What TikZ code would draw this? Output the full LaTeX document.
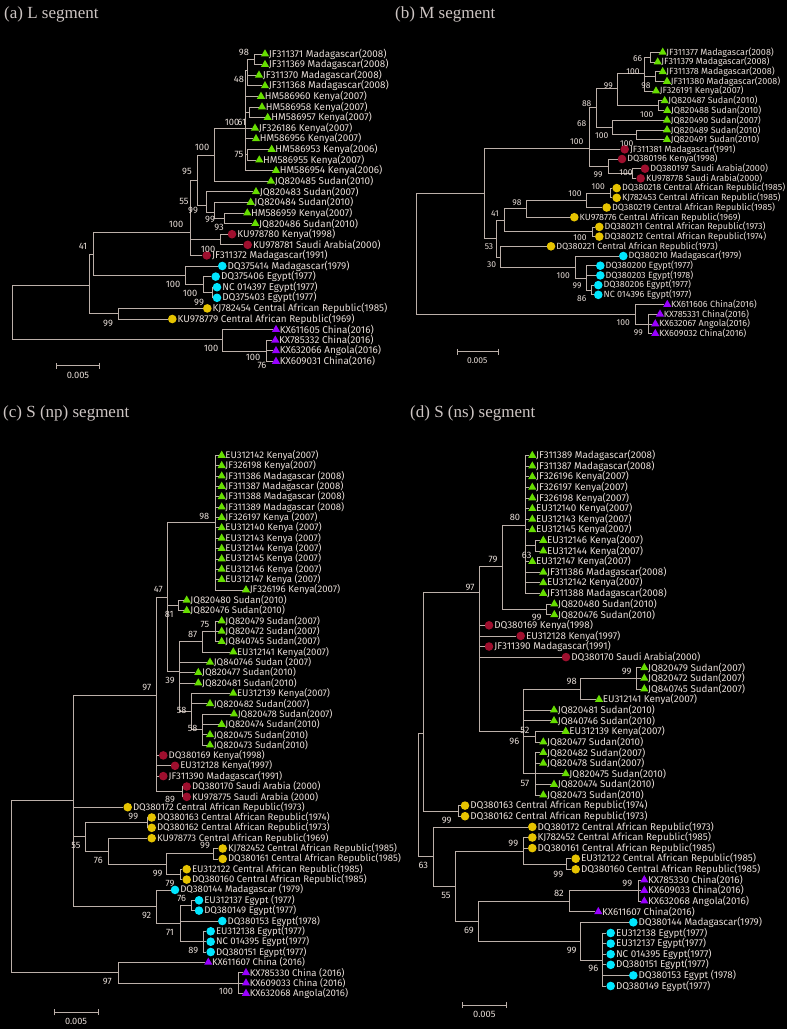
\documentclass[tikz,border=0pt]{standalone}
\usepackage{fontspec}
\setmainfont{Liberation Serif}
\newfontfamily\treefont{Fira Sans}
\newfontfamily\bootfont{Fira Sans}
\usetikzlibrary{positioning, shapes.geometric, arrows.meta}

\definecolor{branch}{HTML}{BCB0A9}
\definecolor{txt}{HTML}{E6DCD6}
\definecolor{ttlc}{HTML}{CDC5C3}
\definecolor{mgreen}{HTML}{66DD00}
\definecolor{mred}{HTML}{9E0F2E}
\definecolor{mcyan}{HTML}{00E6FF}
\definecolor{myellow}{HTML}{E6C300}
\definecolor{mpurple}{HTML}{9900FF}

\tikzstyle{brline} = [draw=branch, line width=0.8pt]
\tikzstyle{gtri} = [regular polygon, regular polygon sides=3, minimum size=9.5pt, inner sep=0pt, fill=mgreen]
\tikzstyle{ptri} = [gtri, fill=mpurple]
\tikzstyle{rdot} = [circle, minimum size=8.6pt, inner sep=0pt, fill=mred]
\tikzstyle{cdot} = [rdot, fill=mcyan]
\tikzstyle{ydot} = [rdot, fill=myellow]
\tikzstyle{lbl} = [text=txt, inner sep=0pt, anchor=west, font=\treefont\fontsize{9.9}{10}\selectfont]
\tikzstyle{boot} = [text=txt, inner sep=0pt, font=\bootfont\fontsize{9.3}{10}\selectfont]
\tikzstyle{ttl} = [text=ttlc, inner sep=0pt, anchor=west, font=\fontsize{17}{19}\selectfont]
\tikzstyle{sbar} = [brline, {Bar[width=6pt]}-{Bar[width=6pt]}]

% leaf: name, x, y, marker, text
\newcommand{\leaf}[5]{\node[#4] (#1) at (#2,#3) {};\node[lbl, right=0.6pt of #1] (#1t) {#5};}
% branches from a parent to its children
\newcommand{\kids}[2]{\foreach \kid in {#2} {\draw[brline] (#1) |- (\kid);}}

\begin{document}
\begin{tikzpicture}[x=1pt, y=-1pt]
\fill[black] (0,0) rectangle (787,1029);
\useasboundingbox (0,0) rectangle (787,1029);

%%%%% (a) L segment
\node[ttl] (ta) at (4,14) {(a) L segment};
\leaf{a1}{265}{54.0}{gtri}{JF311371 Madagascar(2008)}
\leaf{a2}{265}{64.6}{gtri}{JF311369 Madagascar(2008)}
\leaf{a3}{259}{75.2}{gtri}{JF311370 Madagascar(2008)}
\leaf{a4}{265}{85.8}{gtri}{JF311368 Madagascar(2008)}
\leaf{a5}{261}{96.4}{gtri}{HM586960 Kenya(2007)}
\leaf{a6}{262}{107.0}{gtri}{HM586958 Kenya(2007)}
\leaf{a7}{267.7}{117.6}{gtri}{HM586957 Kenya(2007)}
\leaf{a8}{255}{128.2}{gtri}{JF326186 Kenya(2007)}
\leaf{a9}{256}{138.8}{gtri}{HM586956 Kenya(2007)}
\leaf{a10}{271.7}{149.4}{gtri}{HM586953 Kenya(2006)}
\leaf{a11}{259.3}{160.0}{gtri}{HM586955 Kenya(2007)}
\leaf{a12}{276}{170.6}{gtri}{HM586954 Kenya(2006)}
\leaf{a13}{271}{181.2}{gtri}{JQ820485 Sudan(2010)}
\leaf{a14}{256}{191.8}{gtri}{JQ820483 Sudan(2007)}
\leaf{a15}{250.7}{202.4}{gtri}{JQ820484 Sudan(2010)}
\leaf{a16}{247.3}{213.0}{gtri}{HM586959 Kenya(2007)}
\leaf{a17}{255.3}{223.6}{gtri}{JQ820486 Sudan(2010)}
\leaf{a18}{232}{234.2}{rdot}{KU978780 Kenya(1998)}
\leaf{a19}{247.7}{244.8}{rdot}{KU978781 Saudi Arabia(2000)}
\leaf{a20}{206.7}{255.4}{rdot}{JF311372 Madagascar(1991)}
\leaf{a21}{222.3}{266.0}{cdot}{DQ375414 Madagascar(1979)}
\leaf{a22}{215.7}{276.6}{cdot}{DQ375406 Egypt(1977)}
\leaf{a23}{217}{287.2}{cdot}{NC 014397 Egypt(1977)}
\leaf{a24}{217}{297.8}{cdot}{DQ375403 Egypt(1977)}
\leaf{a25}{207.3}{308.4}{ydot}{KJ782454 Central African Republic(1985)}
\leaf{a26}{172.3}{319.0}{ydot}{KU978779 Central African Republic(1969)}
\leaf{a27}{276}{329.6}{ptri}{KX611605 China(2016)}
\leaf{a28}{275.3}{340.2}{ptri}{KX785332 China(2016)}
\leaf{a29}{276}{350.8}{ptri}{KX632066 Angola(2016)}
\leaf{a30}{276}{361.4}{ptri}{KX609031 China(2016)}

\coordinate (aroot) at (12,285);
\coordinate (an41) at (89,285);
\coordinate (anb) at (93,254);
\coordinate (an100a) at (190,232.7);
\coordinate (an95) at (197,180);
\coordinate (an100) at (214.3,155);
\coordinate (ank) at (245,128.3);
\coordinate (an48) at (247,70);
\coordinate (an98) at (254,59.3);
\coordinate (an61) at (249,112.3);
\coordinate (an75) at (247,154.7);
\coordinate (an55) at (206.7,205);
\coordinate (an99c) at (214,212);
\coordinate (an99d) at (224,218.3);
\coordinate (an93) at (220,239.5);
\coordinate (aneg) at (185,275.7);
\coordinate (aneg2) at (203,284);
\coordinate (aneg3) at (212,292.5);
\coordinate (ancar) at (118.3,313.7);
\coordinate (anch) at (222.7,339);
\coordinate (anch2) at (266.7,351);

\kids{aroot}{an41,anch}
\kids{an41}{anb,ancar}
\kids{anb}{an100a,aneg}
\kids{an100a}{an95,an93,a20}
\kids{an95}{an100,an55}
\kids{an100}{ank,a13}
\kids{ank}{an48,a5,an61,a8,a9,an75,a12}
\kids{an48}{an98,a3,a4}
\kids{an98}{a1,a2}
\kids{an61}{a6,a7}
\kids{an75}{a10,a11}
\kids{an55}{a14,an99c}
\kids{an99c}{a15,an99d}
\kids{an99d}{a16,a17}
\kids{an93}{a18,a19}
\kids{aneg}{a21,aneg2}
\kids{aneg2}{a22,aneg3}
\kids{aneg3}{a23,a24}
\kids{ancar}{a25,a26}
\kids{anch}{a27,anch2}
\kids{anch2}{a28,a29,a30}

\node[boot] (ab1) at (244,52) {98};
\node[boot] (ab2) at (239,79) {48};
\node[boot] (ab3) at (232,122) {100};
\node[boot] (ab4) at (242,122) {61};
\node[boot] (ab5) at (239,154) {75};
\node[boot] (ab6) at (202,147) {100};
\node[boot] (ab7) at (187,171) {95};
\node[boot] (ab8) at (184,201) {55};
\node[boot] (ab9) at (193,210) {99};
\node[boot] (ab10) at (210,219) {99};
\node[boot] (ab11) at (219,227.5) {93};
\node[boot] (ab12) at (176,224.5) {100};
\node[boot] (ab13) at (83,246) {41};
\node[boot] (ab14) at (208,249.3) {100};
\node[boot] (ab15) at (173,284) {100};
\node[boot] (ab16) at (190,293) {100};
\node[boot] (ab17) at (199,302) {99};
\node[boot] (ab18) at (108,323) {99};
\node[boot] (ab19) at (211,348) {100};
\node[boot] (ab20) at (253,357) {100};
\node[boot] (ab21) at (262,365) {76};

\coordinate (asl) at (56,365.7);
\coordinate (asr) at (100,365.7);
\draw[sbar] (asl) -- (asr);
\node[boot] (asc) at (78,375.7) {0.005};

%%%%% (b) M segment
\begin{scope}[lbl/.append style={font=\treefont\fontsize{9}{9.5}\selectfont},
              boot/.append style={font=\bootfont\fontsize{8.5}{9}\selectfont}]
\node[ttl] (tb) at (395,14) {(b) M segment};
\leaf{b1}{662.7}{52.3}{gtri}{JF311377 Madagascar(2008)}
\leaf{b2}{657.7}{62.0}{gtri}{JF311379 Madagascar(2008)}
\leaf{b3}{662.7}{71.7}{gtri}{JF311378 Madagascar(2008)}
\leaf{b4}{667}{81.4}{gtri}{JF311380 Madagascar(2008)}
\leaf{b5}{656}{91.1}{gtri}{JF326191 Kenya(2007)}
\leaf{b6}{664.7}{100.8}{gtri}{JQ820487 Sudan(2010)}
\leaf{b7}{667.3}{110.5}{gtri}{JQ820488 Sudan(2010)}
\leaf{b8}{667}{120.2}{gtri}{JQ820490 Sudan(2007)}
\leaf{b9}{667}{129.9}{gtri}{JQ820489 Sudan(2010)}
\leaf{b10}{667}{139.6}{gtri}{JQ820491 Sudan(2010)}
\leaf{b11}{624.7}{149.3}{rdot}{JF311381 Madagascar(1991)}
\leaf{b12}{622}{159.0}{rdot}{DQ380196 Kenya(1998)}
\leaf{b13}{645}{168.7}{rdot}{DQ380197 Saudi Arabia(2000)}
\leaf{b14}{640.7}{178.4}{rdot}{KU978778 Saudi Arabia(2000)}
\leaf{b15}{616.7}{188.1}{ydot}{DQ380218 Central African Republic(1985)}
\leaf{b16}{616.7}{197.8}{ydot}{KJ782453 Central African Republic(1985)}
\leaf{b17}{606.7}{207.5}{ydot}{DQ380219 Central African Republic(1985)}
\leaf{b18}{574.3}{217.2}{ydot}{KU978776 Central African Republic(1969)}
\leaf{b19}{599.3}{226.9}{ydot}{DQ380211 Central African Republic(1973)}
\leaf{b20}{599.3}{236.6}{ydot}{DQ380212 Central African Republic(1974)}
\leaf{b21}{551}{246.3}{ydot}{DQ380221 Central African Republic(1973)}
\leaf{b22}{623.3}{256.0}{cdot}{DQ380210 Madagascar(1979)}
\leaf{b23}{600.3}{265.7}{cdot}{DQ380200 Egypt(1977)}
\leaf{b24}{600.3}{275.4}{cdot}{DQ380203 Egypt(1978)}
\leaf{b25}{598.3}{285.1}{cdot}{DQ380206 Egypt(1977)}
\leaf{b26}{598.3}{294.8}{cdot}{NC 014396 Egypt(1977)}
\leaf{b27}{667.3}{304.5}{ptri}{KX611606 China(2016)}
\leaf{b28}{660}{314.2}{ptri}{KX785331 China(2016)}
\leaf{b29}{655.3}{323.9}{ptri}{KX632067 Angola(2016)}
\leaf{b30}{655.3}{333.6}{ptri}{KX609032 China(2016)}

\coordinate (broot) at (416.7,193.3);
\coordinate (bna) at (484,193.3);
\coordinate (bnb) at (589.3,148.3);
\coordinate (bn88) at (596.7,107.7);
\coordinate (bn99g) at (617.3,88.3);
\coordinate (bn100m) at (644,73);
\coordinate (bn66) at (650,57.2);
\coordinate (bn98) at (655,76.5);
\coordinate (bnsud) at (658.3,105.6);
\coordinate (bn100s) at (612.7,127.5);
\coordinate (bn3) at (636.7,134.8);
\coordinate (bnred) at (608.3,166.7);
\coordinate (bnsa) at (632.7,173.5);
\coordinate (bnc) at (496.7,238.3);
\coordinate (bn41) at (504,220);
\coordinate (bn98c) at (526.7,208.6);
\coordinate (bn100c) at (586.7,200);
\coordinate (bn100y) at (610,193);
\coordinate (bn100d) at (592.7,231.8);
\coordinate (bn30) at (500,257);
\coordinate (bneg) at (575,267.7);
\coordinate (bneg2) at (586.7,278.3);
\coordinate (bneg3) at (591.7,290);
\coordinate (bnch) at (635,314.3);
\coordinate (bnch2) at (648.3,324);

\kids{broot}{bna,bnch}
\kids{bna}{bnb,bnc}
\kids{bnb}{bn88,b11,bnred}
\kids{bn88}{bn99g,bn100s}
\kids{bn99g}{bn100m,bnsud}
\kids{bn100m}{bn66,bn98,b5}
\kids{bn66}{b1,b2}
\kids{bn98}{b3,b4}
\kids{bnsud}{b6,b7}
\kids{bn100s}{b8,bn3}
\kids{bn3}{b9,b10}
\kids{bnred}{b12,bnsa}
\kids{bnsa}{b13,b14}
\kids{bnc}{bn41,bn30}
\kids{bn41}{bn98c,bn100d}
\kids{bn98c}{bn100c,b18}
\kids{bn100c}{bn100y,b17}
\kids{bn100y}{b15,b16}
\kids{bn100d}{b19,b20}
\kids{bn30}{b21,bneg}
\kids{bneg}{b22,bneg2}
\kids{bneg2}{b23,b24,bneg3}
\kids{bneg3}{b25,b26}
\kids{bnch}{b27,bnch2}
\kids{bnch2}{b28,b29,b30}

\node[boot] (bb1) at (637.7,58.3) {66};
\node[boot] (bb2) at (633,71.7) {100};
\node[boot] (bb3) at (646,86) {98};
\node[boot] (bb4) at (608.3,86) {99};
\node[boot] (bb5) at (586.7,103.3) {88};
\node[boot] (bb6) at (646.7,114.3) {100};
\node[boot] (bb7) at (581.7,123.3) {68};
\node[boot] (bb8) at (601.7,136) {100};
\node[boot] (bb9) at (576.7,141.7) {100};
\node[boot] (bb10) at (626.7,143.3) {100};
\node[boot] (bb11) at (598,175) {99};
\node[boot] (bb12) at (626,172.7) {100};
\node[boot] (bb13) at (598.3,186.7) {100};
\node[boot] (bb14) at (575,193.3) {100};
\node[boot] (bb15) at (517,202.7) {98};
\node[boot] (bb16) at (495,213.3) {41};
\node[boot] (bb17) at (580,237.3) {100};
\node[boot] (bb18) at (489,246.7) {53};
\node[boot] (bb19) at (491.7,265) {30};
\node[boot] (bb20) at (563.3,276) {100};
\node[boot] (bb21) at (577,286) {99};
\node[boot] (bb22) at (581.7,298.3) {86};
\node[boot] (bb23) at (623.3,322.7) {100};
\node[boot] (bb24) at (638.3,332.7) {99};

\coordinate (bsl) at (456.7,351.7);
\coordinate (bsr) at (498.3,351.7);
\draw[sbar] (bsl) -- (bsr);
\node[boot] (bsc) at (477.3,360.7) {0.005};
\end{scope}

%%%%% (c) S (np) segment
\begin{scope}[lbl/.append style={font=\treefont\fontsize{9.6}{10}\selectfont},
              boot/.append style={font=\bootfont\fontsize{9.2}{10}\selectfont}]
\node[ttl] (tc) at (3,413) {(c) S (np) segment};
\leaf{c1}{221.7}{455.4}{gtri}{EU312142 Kenya(2007)}
\leaf{c2}{221.7}{465.7}{gtri}{JF326198 Kenya(2007)}
\leaf{c3}{221.7}{476.1}{gtri}{JF311386 Madagascar (2008)}
\leaf{c4}{221.7}{486.4}{gtri}{JF311387 Madagascar (2008)}
\leaf{c5}{221.7}{496.8}{gtri}{JF311388 Madagascar (2008)}
\leaf{c6}{221.7}{507.1}{gtri}{JF311389 Madagascar (2008)}
\leaf{c7}{221.7}{517.5}{gtri}{JF326197 Kenya (2007)}
\leaf{c8}{221.7}{527.8}{gtri}{EU312140 Kenya (2007)}
\leaf{c9}{221.7}{538.2}{gtri}{EU312143 Kenya (2007)}
\leaf{c10}{221.7}{548.5}{gtri}{EU312144 Kenya (2007)}
\leaf{c11}{221.7}{558.9}{gtri}{EU312145 Kenya (2007)}
\leaf{c12}{221.7}{569.2}{gtri}{EU312146 Kenya (2007)}
\leaf{c13}{221.7}{579.5}{gtri}{EU312147 Kenya (2007)}
\leaf{c14}{246}{589.9}{gtri}{JF326196 Kenya(2007)}
\leaf{c15}{186.7}{600.2}{gtri}{JQ820480 Sudan(2010)}
\leaf{c16}{186.7}{610.6}{gtri}{JQ820476 Sudan(2010)}
\leaf{c17}{221.7}{620.9}{gtri}{JQ820479 Sudan(2007)}
\leaf{c18}{221.7}{631.3}{gtri}{JQ820472 Sudan(2007)}
\leaf{c19}{221.7}{641.6}{gtri}{JQ840745 Sudan(2007)}
\leaf{c20}{233.3}{652.0}{gtri}{EU312141 Kenya(2007)}
\leaf{c21}{210}{662.3}{gtri}{JQ840746 Sudan (2007)}
\leaf{c22}{198.3}{672.6}{gtri}{JQ820477 Sudan(2010)}
\leaf{c23}{198.3}{683.0}{gtri}{JQ820481 Sudan(2010)}
\leaf{c24}{233.3}{693.3}{gtri}{EU312139 Kenya(2007)}
\leaf{c25}{210}{703.7}{gtri}{JQ820482 Sudan(2007)}
\leaf{c26}{234}{714.0}{gtri}{JQ820478 Sudan(2007)}
\leaf{c27}{221.7}{724.4}{gtri}{JQ820474 Sudan(2010)}
\leaf{c28}{210}{734.7}{gtri}{JQ820475 Sudan(2010)}
\leaf{c29}{210}{745.1}{gtri}{JQ820473 Sudan(2010)}
\leaf{c30}{163.3}{755.4}{rdot}{DQ380169 Kenya(1998)}
\leaf{c31}{175}{765.8}{rdot}{EU312128 Kenya(1997)}
\leaf{c32}{163.3}{776.1}{rdot}{JF311390 Madagascar(1991)}
\leaf{c33}{186.7}{786.5}{rdot}{DQ380170 Saudi Arabia (2000)}
\leaf{c34}{186.7}{796.8}{rdot}{KU978775 Saudi Arabia (2000)}
\leaf{c35}{127.7}{807.2}{ydot}{DQ380172 Central African Republic(1973)}
\leaf{c36}{151.7}{817.5}{ydot}{DQ380163 Central African Republic(1974)}
\leaf{c37}{151.7}{827.8}{ydot}{DQ380162 Central African Republic(1973)}
\leaf{c38}{151.7}{838.2}{ydot}{KU978773 Central African Republic(1969)}
\leaf{c39}{222.7}{848.5}{ydot}{KJ782452 Central African Republic(1985)}
\leaf{c40}{222.7}{858.9}{ydot}{DQ380161 Central African Republic(1985)}
\leaf{c41}{186.7}{869.2}{ydot}{EU312122 Central African Republic(1985)}
\leaf{c42}{186.7}{879.6}{ydot}{DQ380160 Central African Republic(1985)}
\leaf{c43}{175}{889.9}{cdot}{DQ380144 Madagascar (1979)}
\leaf{c44}{199}{900.3}{cdot}{EU312137 Egypt (1977)}
\leaf{c45}{199}{910.6}{cdot}{DQ380149 Egypt(1977)}
\leaf{c46}{222.3}{921.0}{cdot}{DQ380153 Egypt(1978)}
\leaf{c47}{210.7}{931.3}{cdot}{EU312138 Egypt(1977)}
\leaf{c48}{210.7}{941.7}{cdot}{NC 014395 Egypt(1977)}
\leaf{c49}{210.7}{952.0}{cdot}{DQ380151 Egypt(1977)}
\leaf{c50}{208.3}{962.3}{ptri}{KX611607 China (2016)}
\leaf{c51}{246}{972.7}{ptri}{KX785330 China (2016)}
\leaf{c52}{246}{983.0}{ptri}{KX609033 China (2016)}
\leaf{c53}{246}{993.4}{ptri}{KX632068 Angola(2016)}

\coordinate (croot) at (11.7,800);
\coordinate (cn1) at (73.3,800);
\coordinate (cn97) at (156.7,695);
\coordinate (cn47) at (167.7,597.3);
\coordinate (cn98) at (215,522.7);
\coordinate (cn81) at (178.7,605.4);
\coordinate (cn39) at (179.3,671.7);
\coordinate (cn87) at (202.7,641.7);
\coordinate (cn75) at (215,631.3);
\coordinate (cn58a) at (191.7,711);
\coordinate (cn58b) at (202.7,729.5);
\coordinate (cn89) at (182.7,791.7);
\coordinate (cn55) at (85,836.7);
\coordinate (cn99y) at (147.7,822.7);
\coordinate (cn76) at (108.3,851);
\coordinate (cnc2) at (166.7,864);
\coordinate (cn99k) at (213.3,853.7);
\coordinate (cn99e) at (180,874.4);
\coordinate (cneg) at (156.7,906.7);
\coordinate (cn71) at (180,923.3);
\coordinate (cn76e) at (191.7,905.5);
\coordinate (cn89e) at (203.3,941.7);
\coordinate (cn97c) at (118.3,972.3);
\coordinate (cn100) at (238.3,983);

\kids{croot}{cn1,cn97c}
\kids{cn1}{cn97,c35,cn55,cneg}
\kids{cn97}{cn47,c30,c31,c32,cn89}
\kids{cn47}{cn98,cn81,cn39}
\kids{cn98}{c1,c2,c3,c4,c5,c6,c7,c8,c9,c10,c11,c12,c13,c14}
\kids{cn81}{c15,c16}
\kids{cn39}{cn87,c21,c22,c23,cn58a}
\kids{cn87}{cn75,c20}
\kids{cn75}{c17,c18,c19}
\kids{cn58a}{c24,c25,cn58b}
\kids{cn58b}{c26,c27,c28,c29}
\kids{cn89}{c33,c34}
\kids{cn55}{cn99y,cn76}
\kids{cn99y}{c36,c37}
\kids{cn76}{c38,cnc2}
\kids{cnc2}{cn99k,cn99e}
\kids{cn99k}{c39,c40}
\kids{cn99e}{c41,c42}
\kids{cneg}{c43,cn71}
\kids{cn71}{cn76e,c46,cn89e}
\kids{cn76e}{c44,c45}
\kids{cn89e}{c47,c48,c49}
\kids{cn97c}{c50,cn100}
\kids{cn100}{c51,c52,c53}

\node[boot] (cb1) at (204.3,516) {98};
\node[boot] (cb2) at (158.3,589.3) {47};
\node[boot] (cb3) at (169.3,614.3) {81};
\node[boot] (cb4) at (205,624.3) {75};
\node[boot] (cb5) at (192.7,634.3) {87};
\node[boot] (cb6) at (170,680.7) {39};
\node[boot] (cb7) at (146.7,687.3) {97};
\node[boot] (cb8) at (181.7,710) {58};
\node[boot] (cb9) at (192.7,728.3) {58};
\node[boot] (cb10) at (170,799.3) {89};
\node[boot] (cb11) at (133.3,816) {99};
\node[boot] (cb12) at (76,845.7) {55};
\node[boot] (cb13) at (205,845.7) {99};
\node[boot] (cb14) at (98.3,860) {76};
\node[boot] (cb15) at (157.7,873.3) {99};
\node[boot] (cb16) at (170,883) {79};
\node[boot] (cb17) at (181.7,898.3) {76};
\node[boot] (cb18) at (146.7,915.7) {92};
\node[boot] (cb19) at (170,932.7) {71};
\node[boot] (cb20) at (193.3,950) {89};
\node[boot] (cb21) at (107.3,981.7) {97};
\node[boot] (cb22) at (226,991.7) {100};

\coordinate (csl) at (54.3,1012.3);
\coordinate (csr) at (98.3,1012.3);
\draw[sbar] (csl) -- (csr);
\node[boot] (csc) at (76,1021.7) {0.005};
\end{scope}

%%%%% (d) S (ns) segment
\begin{scope}[lbl/.append style={font=\treefont\fontsize{9.85}{10}\selectfont},
              boot/.append style={font=\bootfont\fontsize{9.3}{10}\selectfont}]
\node[ttl] (td) at (410,413.3) {(d) S (ns) segment};
\leaf{d1}{532.3}{455.5}{gtri}{JF311389 Madagascar(2008)}
\leaf{d2}{532.3}{466.1}{gtri}{JF311387 Madagascar(2008)}
\leaf{d3}{532.3}{476.7}{gtri}{JF326196 Kenya(2007)}
\leaf{d4}{532.3}{487.3}{gtri}{JF326197 Kenya(2007)}
\leaf{d5}{532.3}{497.9}{gtri}{JF326198 Kenya(2007)}
\leaf{d6}{532.3}{508.6}{gtri}{EU312140 Kenya(2007)}
\leaf{d7}{532.3}{519.2}{gtri}{EU312143 Kenya(2007)}
\leaf{d8}{532.3}{529.8}{gtri}{EU312145 Kenya(2007)}
\leaf{d9}{543.3}{540.4}{gtri}{EU312146 Kenya(2007)}
\leaf{d10}{543.3}{551.0}{gtri}{EU312144 Kenya(2007)}
\leaf{d11}{532.3}{561.6}{gtri}{EU312147 Kenya(2007)}
\leaf{d12}{543.3}{572.2}{gtri}{JF311386 Madagascar(2008)}
\leaf{d13}{543.3}{582.8}{gtri}{EU312142 Kenya(2007)}
\leaf{d14}{543.3}{593.4}{gtri}{JF311388 Madagascar(2008)}
\leaf{d15}{554.3}{604.0}{gtri}{JQ820480 Sudan(2010)}
\leaf{d16}{554.3}{614.7}{gtri}{JQ820476 Sudan(2010)}
\leaf{d17}{489}{625.3}{rdot}{DQ380169 Kenya(1998)}
\leaf{d18}{520.7}{635.9}{rdot}{EU312128 Kenya(1997)}
\leaf{d19}{489}{646.5}{rdot}{JF311390 Madagascar(1991)}
\leaf{d20}{566}{657.1}{rdot}{DQ380170 Saudi Arabia(2000)}
\leaf{d21}{644.3}{667.7}{gtri}{JQ820479 Sudan(2007)}
\leaf{d22}{644.3}{678.3}{gtri}{JQ820472 Sudan(2007)}
\leaf{d23}{644.3}{688.9}{gtri}{JQ840745 Sudan(2007)}
\leaf{d24}{599}{699.5}{gtri}{EU312141 Kenya(2007)}
\leaf{d25}{554}{710.1}{gtri}{JQ820481 Sudan(2010)}
\leaf{d26}{554}{720.8}{gtri}{JQ840746 Sudan(2010)}
\leaf{d27}{565.7}{731.4}{gtri}{EU312139 Kenya(2007)}
\leaf{d28}{543.3}{742.0}{gtri}{JQ820477 Sudan(2010)}
\leaf{d29}{543.3}{752.6}{gtri}{JQ820482 Sudan(2007)}
\leaf{d30}{543.3}{763.2}{gtri}{JQ820478 Sudan(2007)}
\leaf{d31}{565.7}{773.8}{gtri}{JQ820475 Sudan(2010)}
\leaf{d32}{554}{784.4}{gtri}{JQ820474 Sudan(2010)}
\leaf{d33}{543.3}{795.0}{gtri}{JQ820473 Sudan(2010)}
\leaf{d34}{465}{805.6}{ydot}{DQ380163 Central African Republic(1974)}
\leaf{d35}{465}{816.2}{ydot}{DQ380162 Central African Republic(1973)}
\leaf{d36}{532.3}{826.9}{ydot}{DQ380172 Central African Republic(1973)}
\leaf{d37}{532.3}{837.5}{ydot}{KJ782452 Central African Republic(1985)}
\leaf{d38}{532.3}{848.1}{ydot}{DQ380161 Central African Republic(1985)}
\leaf{d39}{575.7}{858.7}{ydot}{EU312122 Central African Republic(1985)}
\leaf{d40}{575.7}{869.3}{ydot}{DQ380160 Central African Republic(1985)}
\leaf{d41}{644.3}{879.9}{ptri}{KX785330 China(2016)}
\leaf{d42}{644.3}{890.5}{ptri}{KX609033 China(2016)}
\leaf{d43}{644.3}{901.1}{ptri}{KX632068 Angola(2016)}
\leaf{d44}{598.3}{911.7}{ptri}{KX611607 China(2016)}
\leaf{d45}{633.3}{922.3}{cdot}{DQ380144 Madagascar(1979)}
\leaf{d46}{610.7}{933.0}{cdot}{EU312138 Egypt(1977)}
\leaf{d47}{610.7}{943.6}{cdot}{EU312137 Egypt(1977)}
\leaf{d48}{610.7}{954.2}{cdot}{NC 014395 Egypt(1977)}
\leaf{d49}{610.7}{964.8}{cdot}{DQ380151 Egypt(1977)}
\leaf{d50}{633.3}{975.4}{cdot}{DQ380153 Egypt (1978)}
\leaf{d51}{610.7}{986.0}{cdot}{DQ380149 Egypt(1977)}

\coordinate (droot) at (418.3,733);
\coordinate (dna) at (423.3,733);
\coordinate (dn97) at (479.3,592);
\coordinate (dn79) at (502.7,566.7);
\coordinate (dn80) at (525,525);
\coordinate (dn63s) at (535,545.7);
\coordinate (dn99s) at (546.7,609.4);
\coordinate (dn96) at (523.3,731.7);
\coordinate (dn98s) at (580,689.3);
\coordinate (dn99g) at (636.7,678.3);
\coordinate (dn52) at (535.7,736.7);
\coordinate (dn57) at (535.7,773.3);
\coordinate (dn99cy) at (458.3,811);
\coordinate (dn63) at (433.3,856.7);
\coordinate (dn55) at (455,886);
\coordinate (dn99d) at (523.3,851);
\coordinate (dn99f) at (566.7,864);
\coordinate (dn69) at (478.3,921.7);
\coordinate (dn82) at (569,901.7);
\coordinate (dn99ch) at (638.3,890.5);
\coordinate (dn99eg) at (580.7,941.7);
\coordinate (dn96e) at (602.7,960);

\kids{droot}{dna,dn63}
\kids{dna}{dn97,dn99cy}
\kids{dn97}{dn79,d17,d18,d19,d20,dn96}
\kids{dn79}{dn80,dn99s}
\kids{dn80}{d1,d2,d3,d4,d5,d6,d7,d8,dn63s,d11,d12,d13,d14}
\kids{dn63s}{d9,d10}
\kids{dn99s}{d15,d16}
\kids{dn96}{dn98s,d25,d26,dn52,dn57}
\kids{dn98s}{dn99g,d24}
\kids{dn99g}{d21,d22,d23}
\kids{dn52}{d27,d28}
\kids{dn57}{d29,d30,d31,d32,d33}
\kids{dn99cy}{d34,d35}
\kids{dn63}{d36,dn55}
\kids{dn55}{dn99d,dn69}
\kids{dn99d}{d37,d38,dn99f}
\kids{dn99f}{d39,d40}
\kids{dn69}{dn82,dn99eg}
\kids{dn82}{dn99ch,d44}
\kids{dn99ch}{d41,d42,d43}
\kids{dn99eg}{d45,dn96e}
\kids{dn96e}{d46,d47,d48,d49,d50,d51}

\node[boot] (db1) at (515,517.3) {80};
\node[boot] (db2) at (493,559.3) {79};
\node[boot] (db3) at (526.7,555) {63};
\node[boot] (db4) at (536.7,617.7) {99};
\node[boot] (db5) at (470,587) {97};
\node[boot] (db6) at (626.7,671.7) {99};
\node[boot] (db7) at (571.7,681.7) {98};
\node[boot] (db8) at (525,730) {52};
\node[boot] (db9) at (514.3,741) {96};
\node[boot] (db10) at (525,783.3) {57};
\node[boot] (db11) at (446.7,820) {99};
\node[boot] (db12) at (513.3,843.3) {99};
\node[boot] (db13) at (423.3,865) {63};
\node[boot] (db14) at (558.3,874) {99};
\node[boot] (db15) at (627.3,883.3) {99};
\node[boot] (db16) at (559,893.3) {82};
\node[boot] (db17) at (446,895) {55};
\node[boot] (db18) at (469,930) {69};
\node[boot] (db19) at (571.7,950) {99};
\node[boot] (db20) at (593.3,968.3) {96};

\coordinate (dsl) at (462.3,1005);
\coordinate (dsr) at (506.7,1005);
\draw[sbar] (dsl) -- (dsr);
\node[boot] (dsc) at (484.3,1014.3) {0.005};
\end{scope}

\end{tikzpicture}
\end{document}
